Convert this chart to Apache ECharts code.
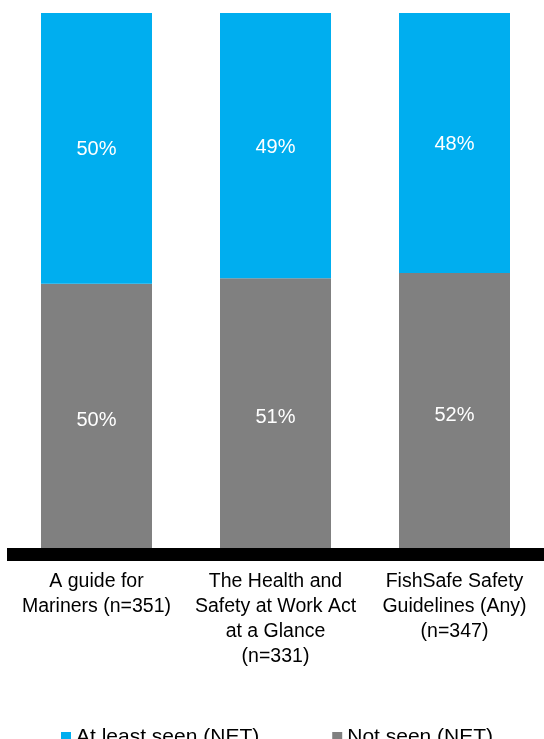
<!DOCTYPE html>
<html>
<head>
<meta charset="utf-8">
<style>
  html, body { margin: 0; padding: 0; background: #ffffff; }
  #chart { width: 544px; height: 739px; }
</style>
<script src="https://cdn.jsdelivr.net/npm/echarts@6/dist/echarts.min.js"></script>
</head>
<body>
<div id="chart"></div>
<script>
// Awareness of safety publications, share of respondents (%)
const categories = [
  'A guide for\nMariners (n=351)',
  'The Health and\nSafety at Work Act\nat a Glance\n(n=331)',
  'FishSafe Safety\nGuidelines (Any)\n(n=347)'
];
const notSeen = [50, 51, 52];
const atLeastSeen = [50, 49, 48];
const seriesNames = ['At least seen (NET)', 'Not seen (NET)'];

const FONT = '"Liberation Sans", Arial, sans-serif';
const BLUE = '#00AEEF';
const GREY = '#808080';

const chart = echarts.init(document.getElementById('chart'), null, { renderer: 'canvas' });

const pctLabel = {
  show: true,
  position: 'inside',
  offset: [0, 1.5],
  color: '#ffffff',
  fontFamily: FONT,
  fontSize: 20,
  formatter: p => p.value + '%'
};

chart.setOption({
  animation: false,
  backgroundColor: '#ffffff',
  grid: { left: 7, width: 542, top: 13, bottom: 184.5, containLabel: false },
  xAxis: {
    type: 'category',
    data: categories,
    z: 5,
    axisLine: { show: true, lineStyle: { color: '#000000', width: 13, cap: 'butt' } },
    axisTick: { show: false },
    axisLabel: {
      interval: 0,
      margin: 15,
      color: '#000000',
      fontFamily: FONT,
      fontSize: 19.5,
      lineHeight: 25,
      align: 'center'
    }
  },
  yAxis: {
    type: 'value',
    min: 0,
    max: 100,
    interval: 20,
    show: false,
    splitLine: { show: false }
  },
  legend: {
    data: seriesNames,
    left: 56,
    top: 719.5,
    icon: 'rect',
    itemWidth: 10,
    itemHeight: 10,
    itemGap: 73,
    textStyle: {
      color: '#000000',
      fontFamily: FONT,
      fontSize: 21,
      lineHeight: 21,
      padding: [0, 0, 4, 0]
    }
  },
  series: [
    {
      name: seriesNames[1],
      type: 'bar',
      stack: 'total',
      barWidth: 111,
      data: notSeen,
      itemStyle: { color: GREY },
      label: pctLabel
    },
    {
      name: seriesNames[0],
      type: 'bar',
      stack: 'total',
      barWidth: 111,
      data: atLeastSeen,
      itemStyle: { color: BLUE },
      label: pctLabel
    }
  ]
});
</script>
</body>
</html>
